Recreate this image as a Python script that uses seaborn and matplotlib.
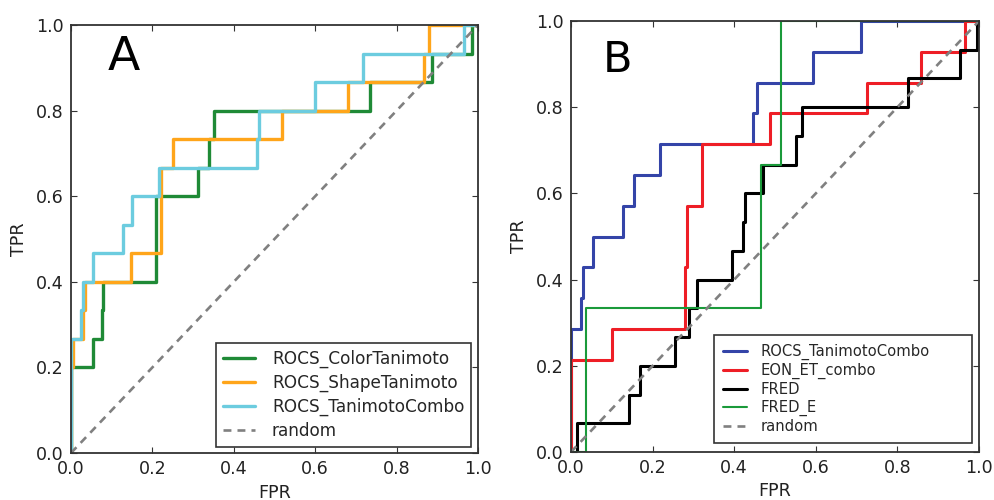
import matplotlib
matplotlib.use("Agg")
import matplotlib.pyplot as plt
import seaborn as sns
import pandas as pd

# ---------------- Panel A data (staircase corner points) ----------------
a_color_fpr = [0, 0, 0.055, 0.055, 0.075, 0.075, 0.079, 0.079, 0.21, 0.21, 0.311, 0.311,
               0.339, 0.339, 0.351, 0.351, 0.735, 0.735, 0.887, 0.887, 0.985, 0.985, 1.0]
a_color_tpr = [0, 0.2, 0.2, 0.267, 0.267, 0.333, 0.333, 0.4, 0.4, 0.6, 0.6, 0.667,
               0.667, 0.733, 0.733, 0.8, 0.8, 0.867, 0.867, 0.933, 0.933, 1.0, 1.0]

a_shape_fpr = [0, 0, 0.005, 0.005, 0.03, 0.03, 0.035, 0.035, 0.147, 0.147, 0.222, 0.222,
               0.251, 0.251, 0.518, 0.518, 0.681, 0.681, 0.868, 0.868, 0.879, 0.879, 1.0]
a_shape_tpr = [0, 0.2, 0.2, 0.267, 0.267, 0.333, 0.333, 0.4, 0.4, 0.467, 0.467, 0.667,
               0.667, 0.733, 0.733, 0.8, 0.8, 0.867, 0.867, 0.933, 0.933, 1.0, 1.0]

a_combo_fpr = [0, 0, 0.024, 0.024, 0.03, 0.03, 0.055, 0.055, 0.128, 0.128, 0.151, 0.151,
               0.216, 0.216, 0.456, 0.456, 0.462, 0.462, 0.6, 0.6, 0.717, 0.717, 0.966, 0.966, 1.0]
a_combo_tpr = [0, 0.267, 0.267, 0.333, 0.333, 0.4, 0.4, 0.467, 0.467, 0.533, 0.533, 0.6,
               0.6, 0.667, 0.667, 0.733, 0.733, 0.8, 0.8, 0.867, 0.867, 0.933, 0.933, 1.0, 1.0]

# ---------------- Panel B data ----------------
b_combo_fpr = [0, 0, 0.024, 0.024, 0.029, 0.029, 0.055, 0.055, 0.128, 0.128, 0.154, 0.154,
               0.218, 0.218, 0.445, 0.445, 0.456, 0.456, 0.593, 0.593, 0.711, 0.711, 1.0]
b_combo_tpr = [0, 0.286, 0.286, 0.357, 0.357, 0.429, 0.429, 0.5, 0.5, 0.571, 0.571, 0.643,
               0.643, 0.714, 0.714, 0.786, 0.786, 0.857, 0.857, 0.929, 0.929, 1.0, 1.0]

b_eon_fpr = [0, 0, 0.1, 0.1, 0.279, 0.279, 0.284, 0.284, 0.32, 0.32, 0.488, 0.488,
             0.725, 0.725, 0.857, 0.857, 0.966, 0.966, 1.0]
b_eon_tpr = [0, 0.214, 0.214, 0.286, 0.286, 0.429, 0.429, 0.571, 0.571, 0.714, 0.714, 0.786,
             0.786, 0.857, 0.857, 0.929, 0.929, 1.0, 1.0]

b_fred_fpr = [0, 0.014, 0.014, 0.142, 0.142, 0.169, 0.169, 0.255, 0.255, 0.29, 0.29, 0.308,
              0.308, 0.394, 0.394, 0.421, 0.421, 0.426, 0.426, 0.471, 0.471, 0.551, 0.551,
              0.565, 0.565, 0.826, 0.826, 0.953, 0.953, 0.996, 0.996, 1.0]
b_fred_tpr = [0, 0, 0.067, 0.067, 0.133, 0.133, 0.2, 0.2, 0.267, 0.267, 0.333, 0.333,
              0.4, 0.4, 0.467, 0.467, 0.533, 0.533, 0.6, 0.6, 0.667, 0.667, 0.733,
              0.733, 0.8, 0.8, 0.867, 0.867, 0.933, 0.933, 1.0, 1.0]

b_frede_fpr = [0, 0.037, 0.037, 0.466, 0.466, 0.515, 0.515, 1.0]
b_frede_tpr = [0, 0, 0.333, 0.333, 0.667, 0.667, 1.0, 1.0]

random_fpr = [0.0, 1.0]
random_tpr = [0.0, 1.0]

ticks = [0.0, 0.2, 0.4, 0.6, 0.8, 1.0]
tick_labels = ["0.0", "0.2", "0.4", "0.6", "0.8", "1.0"]

# ---------------- style ----------------
sns.set_style("ticks")
plt.rcParams.update({
    "font.family": ["DejaVu Sans"],
    "xtick.direction": "in",
    "ytick.direction": "in",
    "xtick.top": True,
    "ytick.right": True,
    "xtick.major.size": 4,
    "ytick.major.size": 4,
    "xtick.major.width": 0.8,
    "ytick.major.width": 0.8,
    "xtick.color": "#333333",
    "ytick.color": "#333333",
    "axes.edgecolor": "#333333",
    "axes.linewidth": 1.3,
})

fig = plt.figure(figsize=(9.95, 5.0), dpi=100)
axA = fig.add_axes([71 / 995, 1 - 453 / 500, 407 / 995, 428 / 500])
axB = fig.add_axes([571 / 995, 1 - 452 / 500, 408 / 995, 431 / 500])


def curve(ax, xs, ys, label, color, lw):
    df = pd.DataFrame({"FPR": xs, "TPR": ys})
    sns.lineplot(data=df, x="FPR", y="TPR", sort=False, estimator=None,
                 color=color, linewidth=lw, label=label, ax=ax)


def random_line(ax):
    df = pd.DataFrame({"FPR": random_fpr, "TPR": random_tpr})
    sns.lineplot(data=df, x="FPR", y="TPR", sort=False, estimator=None,
                 color="#808080", linewidth=1.9, linestyle=(0, (3, 2.3)),
                 label="random", ax=ax)


# Panel A
curve(axA, a_color_fpr, a_color_tpr, "ROCS_ColorTanimoto", "#1f8a36", 2.4)
curve(axA, a_shape_fpr, a_shape_tpr, "ROCS_ShapeTanimoto", "#FFA51A", 2.4)
curve(axA, a_combo_fpr, a_combo_tpr, "ROCS_TanimotoCombo", "#6CCCDF", 2.4)
random_line(axA)

# Panel B
curve(axB, b_combo_fpr, b_combo_tpr, "ROCS_TanimotoCombo", "#3444A8", 2.2)
curve(axB, b_eon_fpr, b_eon_tpr, "EON_ET_combo", "#EE1E26", 2.2)
curve(axB, b_fred_fpr, b_fred_tpr, "FRED", "#000000", 2.2)
curve(axB, b_frede_fpr, b_frede_tpr, "FRED_E", "#1A9A3A", 1.5)
random_line(axB)

for ax, letter, lx, ly, lsize in [(axA, "A", 0.13, 0.925, 34), (axB, "B", 0.115, 0.91, 31)]:
    ax.set_xlim(0, 1)
    ax.set_ylim(0, 1)
    ax.set_xticks(ticks)
    ax.set_yticks(ticks)
    ax.set_xticklabels(tick_labels)
    ax.set_yticklabels(tick_labels)
    ax.tick_params(axis="both", labelsize=12.6, pad=5, labelcolor="#222222")
    ax.set_xlabel("FPR", fontsize=12.6, labelpad=4, color="#222222")
    ax.set_ylabel("TPR", fontsize=12.6, labelpad=6, color="#222222")
    ax.text(lx, ly, letter, transform=ax.transAxes, fontsize=lsize,
            ha="center", va="center", color="black")
    for s in ax.spines.values():
        s.set_visible(True)

legA = axA.legend(loc="lower right", bbox_to_anchor=(0.983, 0.014), borderaxespad=0,
                  fontsize=12.2, frameon=True, fancybox=False, framealpha=1,
                  edgecolor="#333333", handlelength=1.9, handletextpad=1.0,
                  labelspacing=0.35, borderpad=0.4)
legA.get_frame().set_linewidth(1.2)

legB = axB.legend(loc="lower left", bbox_to_anchor=(0.35, 0.021, 0.633, 0.4),
                  mode="expand", borderaxespad=0,
                  fontsize=10.6, frameon=True, fancybox=False, framealpha=1,
                  edgecolor="#333333", handlelength=1.65, handletextpad=0.9,
                  labelspacing=0.2, borderpad=0.6)
legB.get_frame().set_linewidth(1.2)

fig.savefig("out.png", dpi=100)
